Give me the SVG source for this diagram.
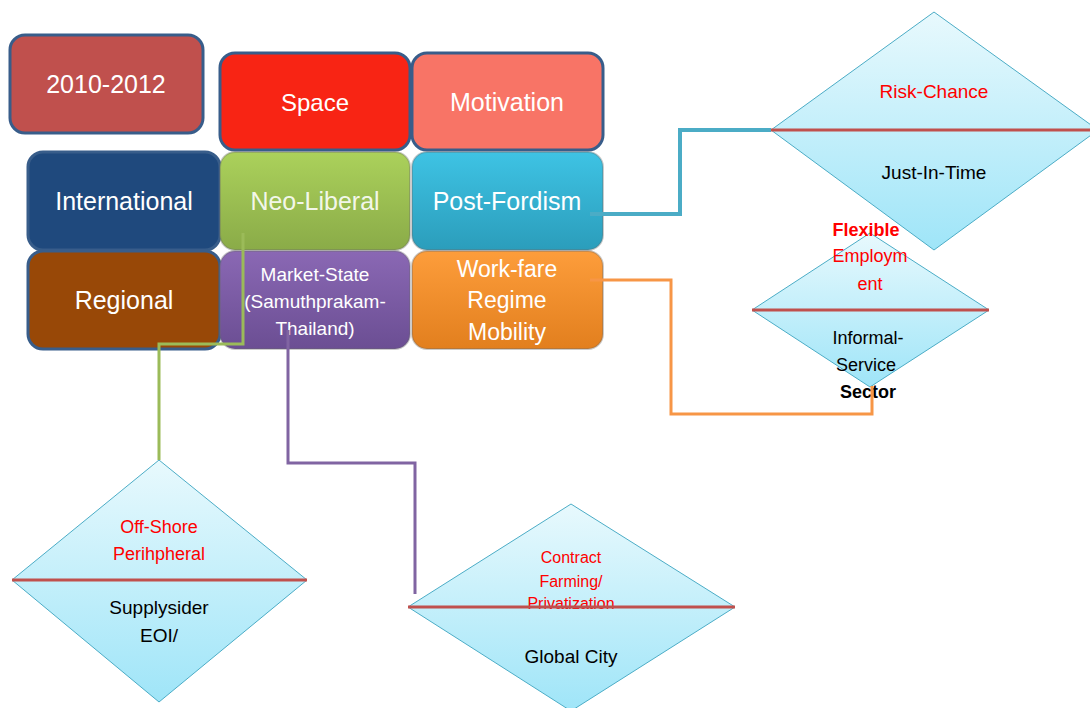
<svg xmlns="http://www.w3.org/2000/svg" width="1090" height="708" viewBox="0 0 1090 708">
<defs>
<linearGradient id="gGreen" x1="0" y1="0" x2="0" y2="1"><stop offset="0" stop-color="#abd15b"/><stop offset="1" stop-color="#8aab48"/></linearGradient>
<linearGradient id="gCyan" x1="0" y1="0" x2="0" y2="1"><stop offset="0" stop-color="#3ec3e4"/><stop offset="1" stop-color="#2b9dbb"/></linearGradient>
<linearGradient id="gOrange" x1="0" y1="0" x2="0" y2="1"><stop offset="0" stop-color="#fd9d3b"/><stop offset="1" stop-color="#e27f1e"/></linearGradient>
<linearGradient id="gPurple" x1="0" y1="0" x2="0" y2="1"><stop offset="0" stop-color="#8a68b4"/><stop offset="1" stop-color="#6b4e93"/></linearGradient>
<linearGradient id="gDia" x1="0" y1="0" x2="0" y2="1"><stop offset="0" stop-color="#e8f9fd"/><stop offset="1" stop-color="#9fe5f8"/></linearGradient>
<style>
.box{stroke:#385d8a;stroke-width:3}
.box2{stroke:#6a6a6a;stroke-opacity:0.35;stroke-width:2}
.bt{font-family:"Liberation Sans",Arial,sans-serif;fill:#ffffff;text-anchor:middle}
.dia{fill:url(#gDia);stroke:#4bacc6;stroke-width:1}
.sep{stroke:#c0504d;stroke-width:3}
.red{font-family:"Liberation Sans",Arial,sans-serif;fill:#ff0000;text-anchor:middle}
.blk{font-family:"Liberation Sans",Arial,sans-serif;fill:#000000;text-anchor:middle}
.con{fill:none;stroke-linejoin:miter}
</style>
</defs>

<g id="n-year"><rect class="box" x="10" y="35" width="193" height="98" rx="15" fill="#c0504d"/><text class="bt" x="106" y="93" font-size="25">2010-2012</text></g>
<g id="n-space"><rect class="box" x="220" y="53" width="190" height="97" rx="15" fill="#f82414"/><text class="bt" x="315" y="111" font-size="24">Space</text></g>
<g id="n-motivation"><rect class="box" x="412" y="53" width="191" height="97" rx="15" fill="#f87466"/><text class="bt" x="507" y="111" font-size="25">Motivation</text></g>
<g id="n-international"><rect class="box" x="28" y="152" width="192" height="98" rx="15" fill="#1f497d"/><text class="bt" x="124" y="210" font-size="25">International</text></g>
<g id="n-neoliberal"><rect class="box2" x="220" y="152" width="190" height="98" rx="15" fill="url(#gGreen)"/><text class="bt" x="315" y="210" font-size="25" fill-opacity="0.9">Neo-Liberal</text></g>
<g id="n-postfordism"><rect class="box2" x="412" y="152" width="191" height="98" rx="15" fill="url(#gCyan)"/><text class="bt" x="507" y="210" font-size="25">Post-Fordism</text></g>
<g id="n-regional"><rect class="box" x="28" y="251" width="192" height="98" rx="15" fill="#984807"/><text class="bt" x="124" y="309" font-size="25">Regional</text></g>
<g id="n-marketstate"><rect class="box2" x="220" y="251" width="190" height="98" rx="15" fill="url(#gPurple)"/><text class="bt" font-size="19"><tspan x="315" y="281">Market-State</tspan><tspan x="315" y="308">(Samuthprakam-</tspan><tspan x="315" y="335">Thailand)</tspan></text></g>
<g id="n-workfare"><rect class="box2" x="412" y="251" width="191" height="98" rx="15" fill="url(#gOrange)"/><text class="bt" font-size="23"><tspan x="507" y="277">Work-fare</tspan><tspan x="507" y="308">Regime</tspan><tspan x="507" y="340">Mobility</tspan></text></g>

<g id="n-riskchance"><polygon class="dia" points="934,12 1098,130 934,250 771,130"/><line class="sep" x1="771" y1="130" x2="1098" y2="130"/><text class="red" x="934" y="98" font-size="19">Risk-Chance</text><text class="blk" x="934" y="179" font-size="19">Just-In-Time</text></g>
<g id="n-flexible"><polygon class="dia" points="870,233 989,310 870,387 752,310"/><line class="sep" x1="752" y1="310" x2="989" y2="310"/><text class="red" font-size="18"><tspan x="866" y="236" font-weight="bold">Flexible</tspan><tspan x="870" y="262">Employm</tspan><tspan x="870" y="290">ent</tspan></text><text class="blk" font-size="18"><tspan x="868" y="344">Informal-</tspan><tspan x="866" y="371">Service</tspan><tspan x="868" y="398" font-weight="bold">Sector</tspan></text></g>
<g id="n-offshore"><polygon class="dia" points="159,460 307,580 159,702 12,580"/><line class="sep" x1="12" y1="580" x2="307" y2="580"/><text class="red" font-size="18"><tspan x="159" y="533">Off-Shore</tspan><tspan x="159" y="560">Perihpheral</tspan></text><text class="blk" font-size="19"><tspan x="159" y="614">Supplysider</tspan><tspan x="159" y="642">EOI/</tspan></text></g>
<g id="n-contract"><polygon class="dia" points="571,504 735,607 571,711 408,607"/><text class="red" font-size="16"><tspan x="571" y="563">Contract</tspan><tspan x="571" y="587">Farming/</tspan><tspan x="571" y="609">Privatization</tspan></text><line class="sep" x1="408" y1="607" x2="735" y2="607"/><text class="blk" x="571" y="663" font-size="19">Global City</text></g>

<g id="connectors">
<polyline class="con" points="590,214 680,214 680,130 771,130" stroke="#4bacc6" stroke-width="4"/>
<polyline class="con" points="590,280 671,280 671,414 872,414 872,386" stroke="#f79646" stroke-width="3"/>
<polyline class="con" points="243,233 243,344 159,344 159,460" stroke="#9bbb59" stroke-width="3"/>
<polyline class="con" points="288,330 288,463 415,463 415,594" stroke="#8064a2" stroke-width="3"/>
</g>
</svg>
